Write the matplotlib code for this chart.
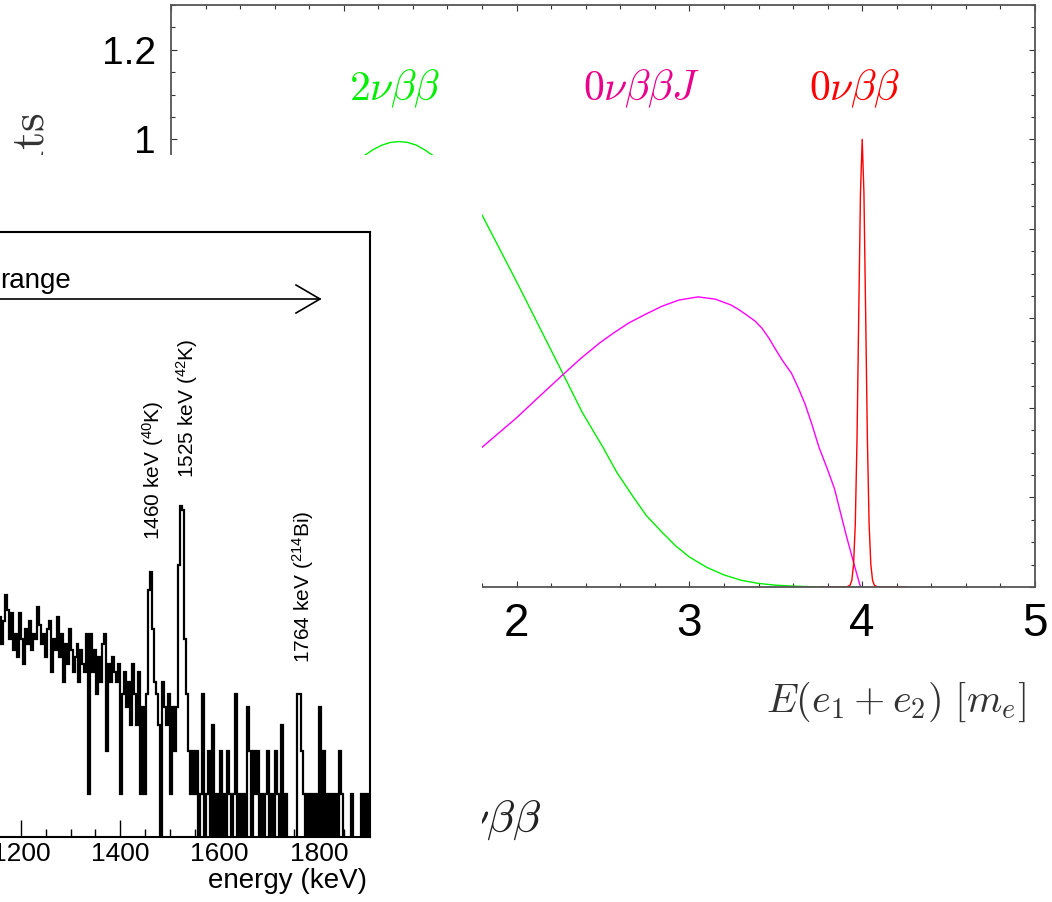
import numpy as np
import matplotlib
matplotlib.use("Agg")
import matplotlib.pyplot as plt
from matplotlib.patches import Rectangle
from matplotlib.lines import Line2D
from matplotlib.ticker import MultipleLocator, FuncFormatter

plt.rcParams["font.family"] = ["Liberation Sans", "DejaVu Sans"]
plt.rcParams["mathtext.fontset"] = "custom"
plt.rcParams["mathtext.rm"] = "Liberation Sans"
plt.rcParams["mathtext.it"] = "Liberation Sans:italic"

W, H = 1052, 902

# background panel: summed electron energy, in units of m_e
green_x = [0.0, 0.2, 0.4, 0.6, 0.8, 1.0, 1.12, 1.17, 1.22, 1.27, 1.32, 1.37, 1.42, 1.47,
           1.515, 1.65, 1.8, 2.0, 2.27, 2.38, 2.5, 2.58, 2.67, 2.75, 2.84, 2.92, 3.0,
           3.1, 3.2, 3.3, 3.4, 3.5, 3.6, 3.75, 4.0]
green_y = [0.0, 0.3, 0.55, 0.74, 0.87, 0.94, 0.964, 0.977, 0.987, 0.993, 0.995, 0.993, 0.987, 0.976,
           0.964, 0.91, 0.831, 0.682, 0.475, 0.39, 0.312, 0.256, 0.204, 0.16, 0.123, 0.092, 0.067,
           0.044, 0.027, 0.015, 0.008, 0.004, 0.002, 0.0, 0.0]

magenta_x = [0.0, 0.4, 0.8, 1.2, 1.5, 1.8, 2.0, 2.13, 2.27, 2.37, 2.48, 2.56, 2.65, 2.74,
             2.84, 2.94, 3.05, 3.15, 3.24, 3.28, 3.33, 3.38, 3.42, 3.46, 3.5, 3.54, 3.59,
             3.63, 3.67, 3.71, 3.75, 3.8, 3.84, 3.875, 3.91, 3.95, 3.99]
magenta_y = [0.0, 0.03, 0.09, 0.17, 0.24, 0.312, 0.378, 0.425, 0.475, 0.51, 0.545, 0.567, 0.59, 0.608,
             0.627, 0.641, 0.648, 0.643, 0.63, 0.621, 0.608, 0.594, 0.578, 0.556, 0.53, 0.505, 0.478,
             0.445, 0.408, 0.362, 0.312, 0.262, 0.219, 0.165, 0.112, 0.055, 0.0]

red_x = [3.75, 3.91, 3.93, 3.94, 3.95, 3.96, 3.97, 3.98, 3.99, 4.0, 4.01, 4.02, 4.03, 4.04,
         4.05, 4.06, 4.07, 4.09, 4.25]
red_y = [0.0, 0.0, 0.004, 0.015, 0.05, 0.14, 0.33, 0.61, 0.88, 1.0, 0.88, 0.61, 0.33, 0.14,
         0.05, 0.015, 0.004, 0.0, 0.0]

curve_labels = [r"$2\nu\beta\beta$", r"$0\nu\beta\beta J$", r"$0\nu\beta\beta$"]

# inset: measured gamma spectrum, 4 keV bins from 1148 keV
bin_start, bin_width = 1148, 4
counts = [
    15, 13, 17, 11, 16, 24, 19, 12, 18, 10,
    13, 9, 18, 12, 8, 14, 11, 16, 10, 13,
    12, 20, 15, 11, 13, 9, 14, 16, 7, 12,
    10, 17, 9, 13, 6, 11, 8, 14, 10, 7,
    9, 11, 6, 10, 8, 7, 13, 1, 13, 7,
    10, 5, 9, 6, 11, 13, 2, 8, 6, 9,
    7, 6, 8, 1, 5, 7, 4, 6, 3, 8,
    5, 3, 7, 1, 4, 1, 5, 26, 35, 14,
    6, 5, 3, 0, 6, 4, 3, 5, 1, 4,
    2, 4, 39, 100, 95, 12, 5, 2, 1, 2,
    1, 2, 0, 1, 5, 0, 1, 2, 0, 3,
    0, 1, 0, 2, 0, 1, 0, 2, 1, 0,
    1, 5, 0, 1, 0, 1, 0, 4, 2, 0,
    2, 1, 2, 0, 1, 0, 1, 2, 0, 1,
    0, 2, 1, 0, 3, 0, 1, 0, 0, 0,
    0, 0, 5, 5, 2, 1, 0, 1, 0, 1,
    0, 1, 0, 4, 0, 2, 0, 1, 0, 1,
    0, 1, 0, 2, 1, 0, 0, 0, 0, 1,
    0, 0, 0, 0, 1, 0, 1, 0, 1,
]
peak_labels = ["1460 keV ($^{40}$K)", "1525 keV ($^{42}$K)", "1764 keV ($^{214}$Bi)"]


def fx(x):
    return x / W


def fy(y):
    return 1 - y / H


fig = plt.figure(figsize=(W / 100, H / 100), dpi=100)

# ---- background chart
ax = fig.add_axes([fx(171), fy(587), 864 / W, 582 / H])
ax.plot(green_x, green_y, color="#00ee00", lw=1.0)
ax.plot(magenta_x, magenta_y, color="#ff00ff", lw=1.0)
ax.plot(red_x, red_y, color="#ff0000", lw=1.0)
ax.set_xlim(0, 5)
ax.set_ylim(0, 1.3)
ax.xaxis.set_major_locator(MultipleLocator(1))
ax.xaxis.set_minor_locator(MultipleLocator(0.2))
ax.yaxis.set_major_locator(MultipleLocator(0.2))
ax.yaxis.set_minor_locator(MultipleLocator(0.05))
ax.yaxis.set_major_formatter(FuncFormatter(lambda v, p: f"{v:g}"))
ax.tick_params(which="both", direction="in", top=True, right=True, color="#333333", width=0.8)
ax.tick_params(which="major", length=4.5)
ax.tick_params(which="minor", length=3)
ax.tick_params(axis="x", labelsize=33, pad=11)
ax.tick_params(axis="y", labelsize=28, pad=11)
for s in ax.spines.values():
    s.set_color("#555555")
    s.set_linewidth(1.3)

for lab, xc, col in zip(curve_labels, [395, 641, 855], ["#00ee00", "#e8008c", "#ff0000"]):
    fig.text(fx(xc), fy(100), lab, color=col, fontsize=30, ha="center", va="baseline",
             math_fontfamily="cm")
fig.text(fx(1026), fy(712), r"$E(e_1+e_2)\ [m_e]$", color="#333333", fontsize=29,
         ha="right", va="baseline", math_fontfamily="cm")
fig.text(fx(32), fy(113), r"$\mathrm{counts}$", color="#333333", fontsize=34, rotation=90,
         ha="center", va="top", math_fontfamily="cm", zorder=0.5)
fig.text(fx(541), fy(832), r"$0\nu\beta\beta$", color="#222222", fontsize=33,
         ha="right", va="baseline", math_fontfamily="cm", zorder=0.5)

# white block the inset sits on
fig.add_artist(Rectangle((0, 0), fx(482), fy(155), transform=fig.transFigure,
                         facecolor="white", edgecolor="none", zorder=1))

# ---- inset spectrum
e_lo, e_hi = 1000, 1903
pxk = 0.4966
ax2 = fig.add_axes([fx(370 - (e_hi - e_lo) * pxk), fy(837.4), (e_hi - e_lo) * pxk / W, 605.7 / H])
ax2.set_zorder(2)
edges = bin_start + bin_width * np.arange(len(counts) + 1)
vals = np.where(np.array(counts) > 0, counts, 0.01)
ax2.stairs(vals, edges, baseline=None, color="black", lw=1.6)
ax2.set_yscale("log")
ax2.set_xlim(e_lo, e_hi)
ax2.set_ylim(0.5, 8100)
ax2.xaxis.set_major_locator(MultipleLocator(200))
ax2.xaxis.set_minor_locator(MultipleLocator(50))
ax2.tick_params(axis="x", which="both", direction="in", top=False, width=1.0, labelsize=19, pad=3)
ax2.tick_params(axis="x", which="major", length=12)
ax2.tick_params(axis="x", which="minor", length=6)
ax2.tick_params(axis="y", which="both", direction="in", right=False)
for s in ax2.spines.values():
    s.set_linewidth(1.5)

fig.text(fx(367), fy(888), "energy (keV)", fontsize=20, ha="right", va="baseline", zorder=3)
fig.text(fx(71), fy(288), "range", fontsize=20, ha="right", va="baseline", zorder=3)
fig.add_artist(Line2D([fx(-5), fx(320)], [fy(299), fy(299)], transform=fig.transFigure,
                      color="black", lw=1.2, zorder=3))
fig.add_artist(Line2D([fx(296), fx(320), fx(296)], [fy(285), fy(299), fy(313)],
                      transform=fig.transFigure, color="black", lw=1.2, zorder=3))
for lab, xc, yb in zip(peak_labels, [153, 187, 303], [540, 478, 663]):
    fig.text(fx(xc), fy(yb), lab, fontsize=15, rotation=90, ha="center", va="bottom", zorder=3)

fig.savefig("out.png", dpi=100)
